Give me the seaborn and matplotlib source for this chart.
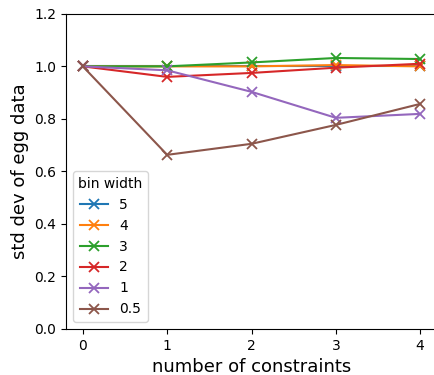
import numpy as np
import pandas as pd
import seaborn as sns
import matplotlib.pyplot as plt

constraints = [0, 1, 2, 3, 4]
bin_widths = ["5", "4", "3", "2", "1", "0.5"]
std_5 = [1.0, 1.0, 1.0, 1.0, 1.0]
std_4 = [1.0, 1.0, 1.0, 1.005, 1.0]
std_3 = [1.0, 1.0, 1.015, 1.032, 1.028]
std_2 = [1.0, 0.96, 0.975, 0.995, 1.01]
std_1 = [1.0, 0.985, 0.903, 0.804, 0.819]
std_05 = [1.0, 0.663, 0.705, 0.777, 0.857]

series = [std_5, std_4, std_3, std_2, std_1, std_05]
colors = sns.color_palette("tab10", len(series))

fig = plt.figure(figsize=(4.34, 3.75), dpi=100)
ax = fig.add_axes([0.152, 0.123, 0.855, 0.84])
for bw, vals, col in zip(bin_widths, series, colors):
    sns.lineplot(x=constraints, y=vals, label=bw, color=col, marker="x",
                 markersize=7, markeredgewidth=1.3, markeredgecolor=col,
                 linewidth=1.5, ax=ax)
ax.set_ylim(0, 1.2)
ax.set_xticks(constraints)
ax.set_xlabel("number of constraints", fontsize=13)
ax.set_ylabel("std dev of egg data", fontsize=13)
ax.legend(title="bin width", loc="lower left")
fig.savefig("out.png", dpi=100)
